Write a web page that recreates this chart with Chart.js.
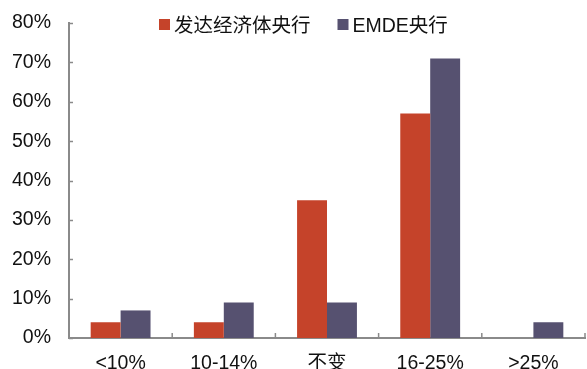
<!DOCTYPE html>
<html>
<head>
<meta charset="utf-8">
<script src="https://cdn.jsdelivr.net/npm/chart.js@4"></script>
<style>
html,body{margin:0;padding:0;background:#fff;}
#wrap{width:587px;height:369px;}
</style>
</head>
<body>
<div id="wrap"><canvas id="c" width="587" height="369"></canvas></div>
<script>
const categories = ['<10%', '10-14%', '不变', '16-25%', '>25%'];
const seriesNames = ['发达经济体央行', 'EMDE央行'];
const advancedCB = [4, 4, 35, 57, 0];
const emdeCB = [7, 9, 9, 71, 4];
const yTicks = [0, 10, 20, 30, 40, 50, 60, 70, 80];

const RED = '#C5432A';
const PURPLE = '#565170';
const AXIS = '#8a8a8a';
const FONT = "'Liberation Sans', Arial, 'Noto Sans CJK SC', sans-serif";

const innerTicks = {
  id: 'innerTicks',
  afterDraw(chart) {
    const ctx = chart.ctx;
    const x = chart.scales.x, y = chart.scales.y;
    const ca = chart.chartArea;
    ctx.save();
    ctx.strokeStyle = AXIS;
    ctx.lineWidth = 1.5;
    yTicks.forEach(v => {
      const py = Math.round(y.getPixelForValue(v)) + 0.5;
      ctx.beginPath(); ctx.moveTo(ca.left, py); ctx.lineTo(ca.left + 4, py); ctx.stroke();
    });
    for (let i = 0; i <= categories.length; i++) {
      const px = i < categories.length
        ? x.getPixelForValue(i) - (x.getPixelForValue(1) - x.getPixelForValue(0)) / 2
        : ca.right;
      ctx.beginPath(); ctx.moveTo(px, ca.bottom); ctx.lineTo(px, ca.bottom - 5); ctx.stroke();
    }
    ctx.restore();
  }
};

const customLegend = {
  id: 'customLegend',
  afterDraw(chart) {
    const ctx = chart.ctx;
    ctx.save();
    ctx.font = '19.5px ' + FONT;
    ctx.textBaseline = 'middle';
    ctx.fillStyle = '#111';
    let x = chart.chartArea.left + 90;
    const yc = 24.5;
    chart.data.datasets.forEach((ds, i) => {
      ctx.fillStyle = ds.backgroundColor;
      ctx.fillRect(x, yc - 5.5, 11, 11);
      x += 11 + 4;
      ctx.fillStyle = '#111';
      ctx.fillText(ds.label, x, yc + 2);
      x += ctx.measureText(ds.label).width + 27;
    });
    ctx.restore();
  }
};

new Chart(document.getElementById('c'), {
  type: 'bar',
  data: {
    labels: categories,
    datasets: [
      { label: seriesNames[0], data: advancedCB, backgroundColor: RED },
      { label: seriesNames[1], data: emdeCB, backgroundColor: PURPLE }
    ]
  },
  options: {
    responsive: false,
    animation: false,
    devicePixelRatio: 1,
    layout: { padding: { top: 23, right: 2, left: 0, bottom: 0 } },
    datasets: { bar: { categoryPercentage: 0.58, barPercentage: 1.0 } },
    plugins: { legend: { display: false }, tooltip: { enabled: false } },
    scales: {
      x: {
        grid: { display: false, drawTicks: false },
        border: { display: true, color: AXIS, width: 2 },
        ticks: { color: '#111', font: { size: 19.5, family: FONT }, padding: 14, maxRotation: 0 },
        afterFit(s) { s.height = 31; s.paddingLeft = 0; s.paddingRight = 0; }
      },
      y: {
        min: 0, max: 80,
        grid: { display: false, drawTicks: false },
        border: { display: true, color: AXIS, width: 2 },
        afterBuildTicks(s) { s.ticks = yTicks.map(v => ({ value: v })); },
        ticks: { color: '#111', font: { size: 19.5, family: FONT }, padding: 18, callback: v => v + '%' },
        afterFit(s) { s.width = 69; s.paddingTop = 0; s.paddingBottom = 0; }
      }
    }
  },
  plugins: [innerTicks, customLegend]
});
</script>
</body>
</html>
